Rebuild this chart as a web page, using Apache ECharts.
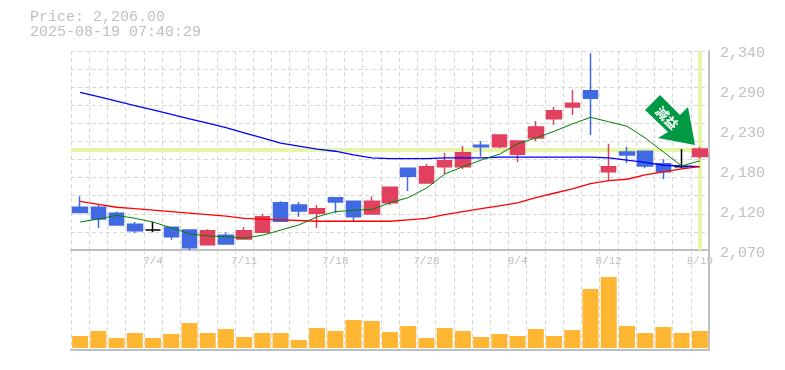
<!DOCTYPE html>
<html>
<head>
<meta charset="utf-8">
<style>html,body{margin:0;padding:0;background:#fff}#chart{width:785px;height:370px}</style>
<script src="https://cdn.jsdelivr.net/npm/echarts@6/dist/echarts.min.js"></script>
</head>
<body>
<div id="chart"></div>
<script>
var dates = ['6/30','7/1','7/2','7/3','7/4','7/7','7/8','7/9','7/10','7/11','7/14','7/15','7/16','7/17','7/18','7/22','7/23','7/24','7/25','7/28','7/29','7/30','7/31','8/1','8/4','8/5','8/6','8/7','8/8','8/12','8/13','8/14','8/15','8/18','8/19'];
var dateLabels = ['7/4','7/11','7/18','7/28','8/4','8/12','8/19'];
var priceLabels = ['2,070','2,120','2,180','2,230','2,290','2,340'];

var opens  = [2128,2128,2120,2105,2097,2101,2097,2077,2090,2085,2094,2134,2131,2120,2141,2136,2119,2134,2181,2161,2183,2183,2212,2210,2200,2222,2248,2264,2286,2176,2203,2204,2187,2183,2197];
var closes = [2121,2112,2104,2096,2097,2088,2073,2096,2078,2096,2115,2109,2123,2126,2135,2115,2136,2155,2170,2183,2191,2202,2210,2226,2218,2237,2259,2269,2276,2183,2199,2184,2176,2183,2207];
var highs  = [2143,2131,2122,2108,2108,2101,2097,2098,2094,2101,2119,2136,2135,2131,2141,2136,2143,2155,2181,2187,2202,2211,2218,2226,2218,2245,2264,2287,2337,2214,2210,2204,2193,2207,2210];
var lows   = [2121,2100,2104,2093,2094,2084,2070,2077,2078,2085,2094,2108,2115,2100,2120,2109,2119,2131,2150,2161,2173,2180,2197,2208,2189,2218,2240,2253,2226,2164,2188,2181,2166,2181,2193];
var ma5    = [2108,2112,2117,2113,2108,2100,2092,2089,2088,2086,2090,2097,2104,2115,2122,2124,2125,2134,2141,2154,2173,2183,2192,2200,2214,2222,2231,2241,2250,2244,2238,2222,2203,2184,2191];
var ma25   = [2136,2132,2128,2126,2124,2122,2120,2118,2116,2113,2112,2111,2110,2109,2109,2109,2109,2109,2111,2113,2118,2122,2126,2130,2134,2141,2147,2153,2160,2164,2166,2172,2176,2180,2183];
var ma75   = [2284,2278,2272,2266,2260,2254,2248,2242,2236,2229,2222,2215,2211,2207,2204,2199,2195,2194,2194,2194,2195,2195,2195,2196,2196,2196,2196,2196,2196,2195,2192,2189,2185,2184,2183];
var volumes = [12,17,10,15,10,14,25,15,19,11,15,15,8,20,17,28,27,16,22,10,20,17,11,14,12,19,12,18,59,71,22,15,21,15,17];
var lastPrice = 2206;

var gray = '#c0c0c0';
var dash = { color: '#d8d8d8', type: [4, 3], width: 1 };
var gridLine = { show: true, interval: 0, lineStyle: dash };
var mono = 'Liberation Mono';

var candles = dates.map(function(d, i) { return [opens[i], closes[i], lows[i], highs[i]]; });

function maSeries(data, color, width) {
	return {
		type: 'line', data: data, xAxisIndex: 0, yAxisIndex: 0, symbol: 'none', z: 4,
		lineStyle: { color: color, width: width }, animation: false
	};
}

var chart = echarts.init(document.getElementById('chart'), null, { renderer: 'canvas' });
chart.setOption({
	animation: false,
	backgroundColor: '#fff',
	title: [
		{ text: 'Price: 2,206.00', left: 25, top: 5, textStyle: { fontFamily: mono, fontSize: 15, fontWeight: 'normal', color: gray } },
		{ text: '2025-08-19 07:40:29', left: 25, top: 20, textStyle: { fontFamily: mono, fontSize: 15, fontWeight: 'normal', color: gray } }
	],
	grid: [
		{ left: 71, width: 638, top: 51, height: 199 },
		{ left: 71, width: 638, top: 250, height: 99.5 },
		{ left: 71, width: 639, top: 53, height: 200 }
	],
	xAxis: [
		{
			type: 'category', gridIndex: 0, data: dates,
			axisLine: { lineStyle: { color: gray, width: 2 } }, axisTick: { show: false },
			splitLine: gridLine,
			axisLabel: {
				interval: 0, margin: 6, fontFamily: mono, fontSize: 11, color: gray,
				formatter: function(v) { return dateLabels.indexOf(v) >= 0 ? v : ''; }
			}
		},
		{
			type: 'category', gridIndex: 1, data: dates,
			axisLine: { onZero: false, lineStyle: { color: gray, width: 2 } }, axisTick: { show: false },
			axisLabel: { show: false }, splitLine: gridLine
		},
		{ type: 'category', gridIndex: 2, data: dates, show: false }
	],
	yAxis: [
		{ type: 'value', gridIndex: 0, min: 2070, max: 2340, position: 'right', axisLine: { show: false }, axisTick: { show: false }, axisLabel: { show: false }, splitLine: { show: false } },
		{ type: 'value', gridIndex: 1, min: -1.5, max: 98, axisLine: { show: false }, axisTick: { show: false }, axisLabel: { show: false }, splitLine: { show: false } },
		{
			type: 'value', gridIndex: 2, min: 0, max: 5, interval: 1, position: 'right',
			axisLine: { show: false }, axisTick: { show: false }, splitLine: { show: false },
			axisLabel: {
				margin: 10, fontFamily: mono, fontSize: 15, color: gray,
				formatter: function(v) { return priceLabels[v]; }
			}
		},
		{
			type: 'value', gridIndex: 0, min: 0, max: 11, interval: 1, position: 'right',
			axisLine: { show: true, lineStyle: { color: gray, width: 2 } }, axisTick: { show: false }, axisLabel: { show: false },
			splitLine: { show: true, lineStyle: dash }
		},
		{
			type: 'value', gridIndex: 1, min: 0, max: 1, position: 'right',
			axisLine: { show: true, lineStyle: { color: gray, width: 2 } }, axisTick: { show: false }, axisLabel: { show: false }, splitLine: { show: false }
		}
	],
	series: [
		{
			type: 'line', data: [], xAxisIndex: 0, yAxisIndex: 0, z: 1,
			markLine: {
				silent: true, symbol: 'none', animation: false, z: 1, label: { show: false },
				lineStyle: { color: '#e6f5a8', width: 4, type: 'solid' },
				data: [{ yAxis: lastPrice }, { xAxis: dates[dates.length - 1] }]
			}
		},
		{
			type: 'candlestick', data: candles, xAxisIndex: 0, yAxisIndex: 0, barWidth: 15, z: 3,
			itemStyle: {
				color: '#e2405f', color0: '#4169e1', borderColor: '#e2405f', borderColor0: '#4169e1',
				borderColorDoji: '#000', borderWidth: 1.5
			}
		},
		maSeries(ma75, '#0000ff', 1.3),
		maSeries(ma25, '#ff0000', 1.3),
		maSeries(ma5, '#008000', 1),
		{
			type: 'bar', data: volumes, xAxisIndex: 1, yAxisIndex: 1, barWidth: 16, z: 3,
			itemStyle: { color: '#ffb733' }
		}
	],
	graphic: [
		{
			type: 'polygon', z: 10,
			shape: { points: [[660, 95], [680, 115], [688, 107], [695, 145], [658, 138], [668, 132], [645, 110]] },
			style: { fill: '#009944' }
		},
		{
			type: 'text', z: 11, x: 667, y: 118, rotation: -Math.PI / 4,
			style: { text: '減益', x: 0, y: 0, align: 'center', verticalAlign: 'middle', fill: '#fff', font: 'bold 13px "Noto Sans CJK JP"' }
		}
	]
});
</script>
</body>
</html>
